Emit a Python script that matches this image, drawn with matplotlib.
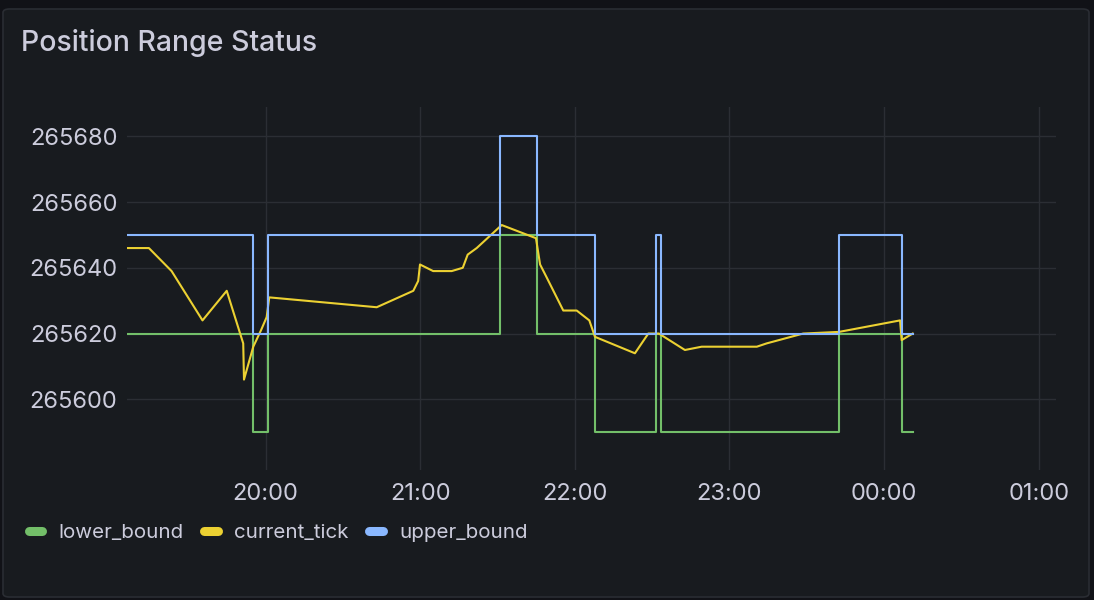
import pandas as pd
import numpy as np
import matplotlib
matplotlib.use("Agg")
import matplotlib.pyplot as plt
import matplotlib.dates as mdates
from matplotlib.lines import Line2D
from matplotlib.patches import FancyBboxPatch

plt.rcParams['font.family'] = ['Inter', 'DejaVu Sans']

# bounds change at these times (step lines)
bound_times = ["19:06:12", "19:55:06", "20:01:00", "21:30:54", "21:45:18", "22:07:48",
               "22:31:24", "22:33:30", "23:42:30", "00:07:06", "00:11:06"]
upper_bound = [265650, 265620, 265650, 265680, 265650, 265620,
               265650, 265620, 265650, 265620, 265620]
lower_bound = [265620, 265590, 265620, 265650, 265620, 265590,
               265620, 265590, 265620, 265590, 265590]

tick_times = ["19:06:18", "19:14:42", "19:23:30", "19:35:30", "19:44:54", "19:51:18",
              "19:51:36", "19:55:12", "19:58:12", "20:00:24", "20:01:24", "20:43:06",
              "20:57:18", "20:59:12", "20:59:54", "21:05:00", "21:12:12", "21:16:30",
              "21:18:24", "21:21:54", "21:31:36", "21:44:54", "21:46:30", "21:49:06",
              "21:55:30", "22:00:42", "22:05:36", "22:07:48", "22:23:18", "22:28:30",
              "22:32:36", "22:42:42", "22:49:12", "23:10:36", "23:14:24", "23:28:36",
              "23:42:30", "00:06:12", "00:06:48", "00:11:06"]
current_tick = [265646, 265646, 265639, 265624, 265633, 265617,
                265606, 265616, 265621, 265625, 265631, 265628,
                265633, 265636, 265641, 265639, 265639, 265640,
                265644, 265646, 265653, 265649, 265641, 265637,
                265627, 265627, 265624, 265619, 265614, 265620,
                265620, 265615, 265616, 265616, 265617, 265620,
                265620.5, 265624, 265618, 265620]

y_ticks = [265600, 265620, 265640, 265660, 265680]


def to_dt(times):
    base = pd.Timestamp("2024-01-01")
    out = []
    for s in times:
        t = base + pd.to_timedelta(s)
        if t.hour < 12:
            t = t + pd.Timedelta(days=1)
        out.append(t)
    return out


bt = to_dt(bound_times)
tt = to_dt(tick_times)

# Grafana dark colours
bg_outer = '#111217'
bg_panel = '#181b1f'
txt = '#ccccdc'
grid = '#2b2e34'
c_green = '#73bf69'
c_yellow = '#ecd132'
c_blue = '#8ab8ff'

fig = plt.figure(figsize=(10.94, 6.0), dpi=100)
fig.patch.set_facecolor(bg_outer)

# panel
panel = FancyBboxPatch((3 / 1094, 3 / 600), 1086 / 1094, 588 / 600,
                       boxstyle="round,pad=0,rounding_size=0.006",
                       transform=fig.transFigure, facecolor=bg_panel,
                       edgecolor='#2a2d33', linewidth=1.2, zorder=-1)
fig.patches.append(panel)

fig.text(21 / 1094, 1 - 43 / 600, "Position Range Status", color=txt,
         fontsize=20.5, fontweight='medium', va='center', ha='left')

ax = fig.add_axes([127 / 1094, 1 - 470 / 600, 929 / 1094, 363 / 600])
ax.set_zorder(2)
ax.set_facecolor(bg_panel)

ax.plot(bt, lower_bound, drawstyle='steps-post', color=c_green, lw=1.5, label='lower_bound')
ax.plot(tt, current_tick, color=c_yellow, lw=1.5, label='current_tick')
ax.plot(bt, upper_bound, drawstyle='steps-post', color=c_blue, lw=1.5, label='upper_bound')

ax.set_ylim(265578.5, 265688.9)
ax.set_xlim(pd.Timestamp("2024-01-01 19:06:12"), pd.Timestamp("2024-01-02 01:06:42"))
ax.set_yticks(y_ticks)
ax.set_yticklabels([str(v) for v in y_ticks])
ax.xaxis.set_major_locator(mdates.HourLocator())
ax.xaxis.set_major_formatter(mdates.DateFormatter('%H:%M'))

ax.grid(True, color=grid, lw=1.0)
ax.set_axisbelow(True)
for sp in ax.spines.values():
    sp.set_visible(False)
ax.tick_params(axis='both', length=0, colors=txt, labelsize=17)
ax.tick_params(axis='y', pad=7)
ax.tick_params(axis='x', pad=9)

handles = [Line2D([], [], color=c, lw=6.5, solid_capstyle='round')
           for c in (c_green, c_yellow, c_blue)]
fig.legend(handles, ['lower_bound', 'current_tick', 'upper_bound'],
           loc='center left', bbox_to_anchor=(29 / 1094, 1 - 533 / 600),
           ncol=3, frameon=False, fontsize=14.8, labelcolor=txt,
           handlelength=0.65, handletextpad=0.8, columnspacing=1.0,
           borderpad=0, borderaxespad=0)

fig.savefig('out.png', dpi=100, facecolor=fig.get_facecolor())
